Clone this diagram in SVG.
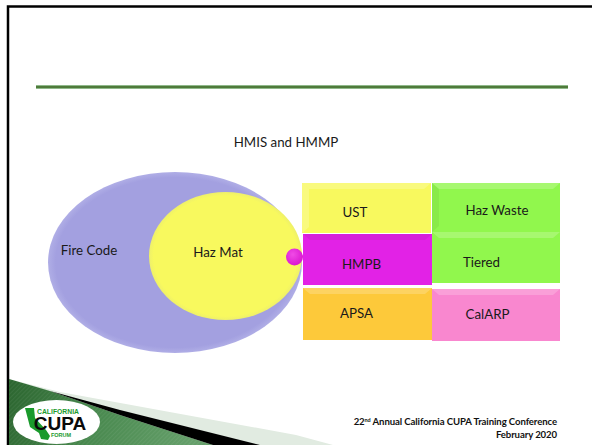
<svg xmlns="http://www.w3.org/2000/svg" width="592" height="445" viewBox="0 0 592 445">
<defs>
<style>
text{font-family:Lato,"Open Sans",sans-serif;font-size:13.300px;fill:#1a1a1a}
.f{font-family:Lato,sans-serif;font-weight:700;font-size:9.600px;fill:#111;letter-spacing:-.1px}
.l{font-family:"Liberation Sans",sans-serif;font-weight:700}
.g{fill:#1a9a2c}
.hi{fill:#fff;opacity:.2}.lo{fill:#000;opacity:.05}
</style>
<linearGradient id="gr" gradientUnits="userSpaceOnUse" x1="9" y1="385" x2="190" y2="445"><stop offset="0" stop-color="#2c6630"/><stop offset=".5" stop-color="#4a8a50"/><stop offset="1" stop-color="#659f6a"/></linearGradient>
<pattern id="hatch" width="3" height="3" patternUnits="userSpaceOnUse" patternTransform="rotate(45)"><rect width="1" height="3" fill="#fff" opacity=".06"/></pattern>
<radialGradient id="bead" cx=".4" cy=".35" r=".7"><stop offset="0" stop-color="#f04be6"/><stop offset="1" stop-color="#d914cf"/></radialGradient>
<radialGradient id="pu" cx=".5" cy=".5" r=".5"><stop offset=".94" stop-color="#a3a0e0"/><stop offset="1" stop-color="#b0aee6"/></radialGradient>
<radialGradient id="ye" cx=".5" cy=".5" r=".5"><stop offset=".94" stop-color="#f8f95e"/><stop offset="1" stop-color="#eef06a"/></radialGradient>
</defs>
<rect width="592" height="445" fill="#fff"/>
<path d="M8 445V6.500H592" fill="none" stroke="#000" stroke-width="2.500"/>
<g id="banner">
<path d="M9 379L60 392L296 435L333 445H213L9 445Z" fill="#e1ebe1"/>
<path d="M9 379L50 391L120 415L213 445H9Z" fill="url(#gr)"/>
<path d="M9 379L50 391L120 415L213 445H9Z" fill="url(#hatch)"/>
<path d="M50 391L120 410L260 445H213L120 415Z" fill="#000"/>
</g>
<line x1="36" y1="87" x2="568" y2="87" stroke="#8fb98a" stroke-width="4"/>
<line x1="36" y1="87" x2="568" y2="87" stroke="#4f7a3a" stroke-width="2.200"/>
<text x="286" y="147" text-anchor="middle">HMIS and HMMP</text>
<g id="fire-code"><ellipse cx="175" cy="262.500" rx="127" ry="90.500" fill="url(#pu)"/><text x="89" y="255" text-anchor="middle">Fire Code</text></g>
<g id="haz-mat"><ellipse cx="225.500" cy="256" rx="76.500" ry="64" fill="url(#ye)"/><text x="218" y="257" text-anchor="middle">Haz Mat</text></g>
<g id="bead-node"><circle cx="294.500" cy="257" r="8.500" fill="url(#bead)"/></g>
<g id="ust"><rect x="302" y="183" width="129" height="50" fill="#f8f95e"/><path d="M302 183H431L424 189H309Z" class="hi"/><path d="M302 183L309 189V227L302 233Z" class="hi"/><text x="355" y="217" text-anchor="middle">UST</text></g>
<g id="haz-waste"><rect x="432" y="183" width="128" height="49" fill="#91f74d"/><path d="M432 183H560L553 189H439Z" class="hi"/><path d="M432 183L439 189V226L432 232Z" class="lo"/><text x="497" y="215" text-anchor="middle">Haz Waste</text></g>
<g id="hmpb"><rect x="303" y="234" width="129" height="51" fill="#e222e6"/><path d="M303 234H432L425 240H310Z" class="lo"/><text x="361.500" y="269" text-anchor="middle">HMPB</text></g>
<g id="tiered"><rect x="432" y="232" width="128" height="51" fill="#91f74d"/><path d="M432 232H560L553 238H439Z" class="hi"/><text x="481.500" y="267" text-anchor="middle">Tiered</text></g>
<g id="apsa"><rect x="303" y="288" width="129" height="52" fill="#fdc93a"/><path d="M303 288H432L425 294H310Z" class="hi"/><text x="356.500" y="318" text-anchor="middle">APSA</text></g>
<g id="calarp"><rect x="432" y="289" width="128" height="52" fill="#f987cf"/><path d="M432 289H560L553 295H439Z" class="hi"/><text x="487.500" y="319" text-anchor="middle">CalARP</text></g>
<g id="logo">
<ellipse cx="56.500" cy="422" rx="43.500" ry="22" fill="#fff"/>
<path d="M25 408L34 408L35 418L46 430L50 436L48 440L41 439L39 433L30 427Z" class="g"/>
<text class="l" x="58" y="414" text-anchor="middle" style="font-size:6.800px;fill:#1a9a2c">CALIFORNIA</text>
<text class="l" x="60" y="430" text-anchor="middle" style="font-size:19px;fill:#0a0a0a">CUPA</text>
<text class="l" x="61" y="437" text-anchor="middle" style="font-size:5.500px;fill:#1a9a2c">FORUM</text>
</g>
<text class="f" x="557" y="425" text-anchor="end">22<tspan font-size="5.500" dy="-3">nd</tspan><tspan dy="3"> Annual California CUPA Training Conference</tspan></text>
<text class="f" x="557" y="438" text-anchor="end">February 2020</text>
</svg>
